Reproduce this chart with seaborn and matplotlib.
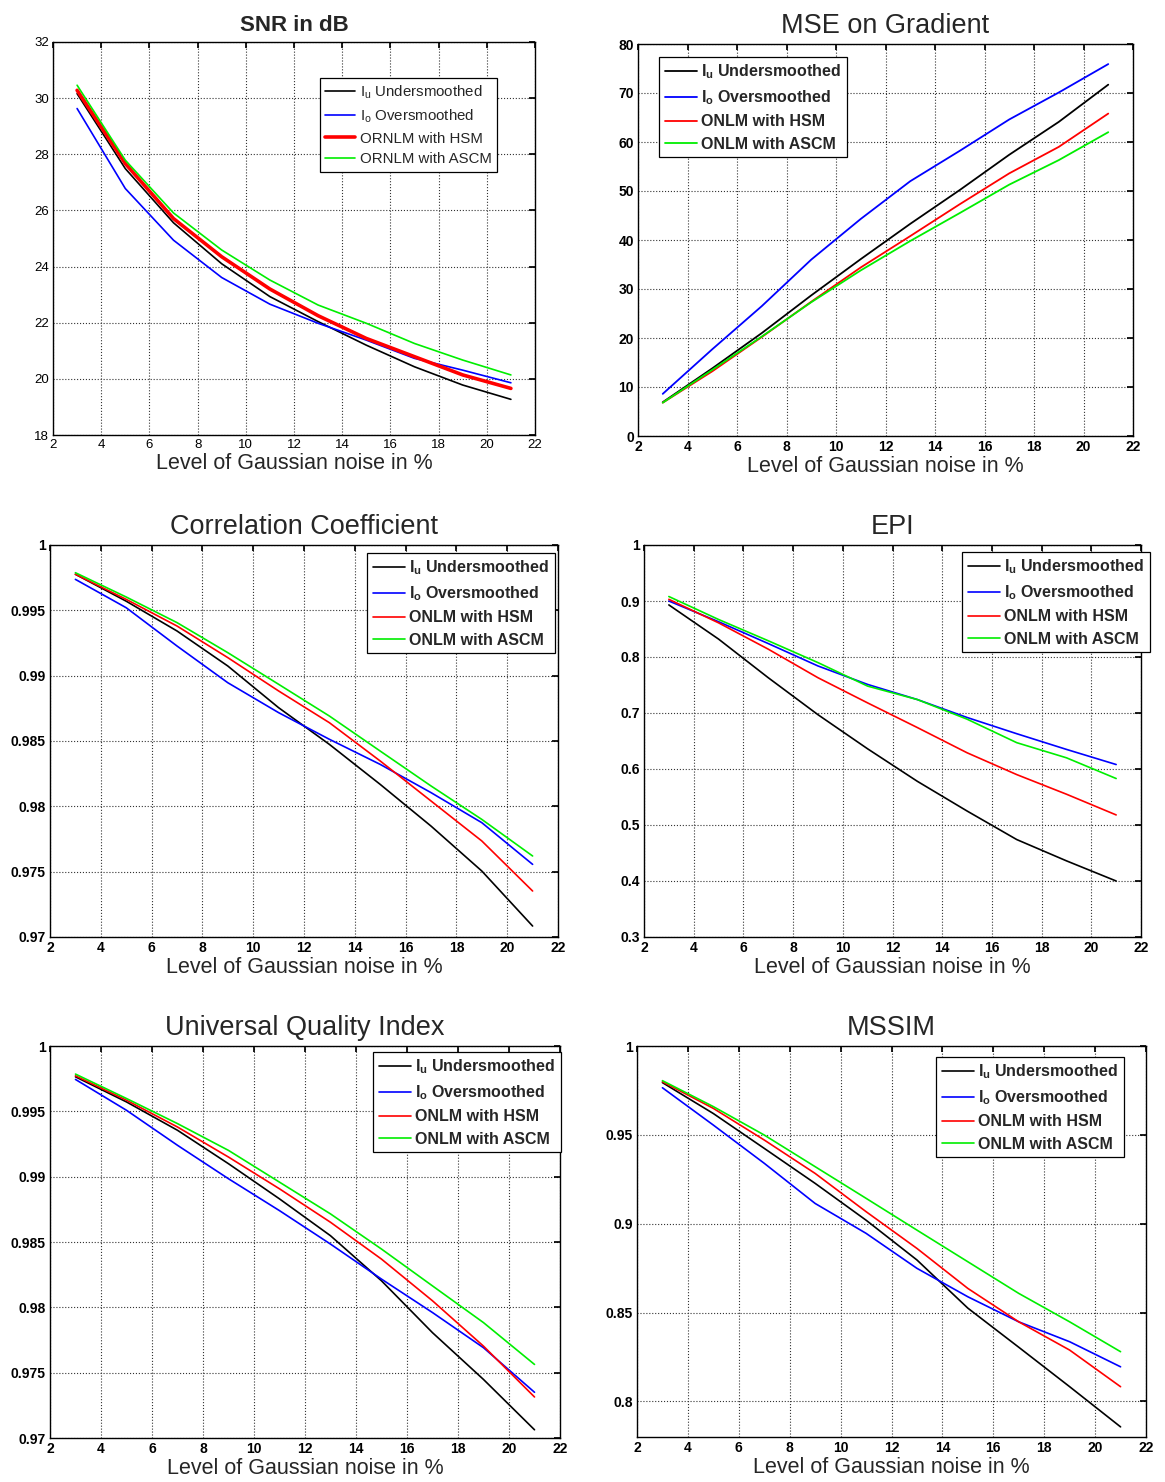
import numpy as np
import pandas as pd
import seaborn as sns
from matplotlib import pyplot as plt
from matplotlib.ticker import FuncFormatter

sns.set_theme(style="white")
plt.rcParams['font.family'] = ['Liberation Sans', 'DejaVu Sans']
plt.rcParams['mathtext.default'] = 'regular'

# noise levels (%)
noise = [3, 5, 7, 9, 11, 13, 15, 17, 19, 21]

# SNR in dB
snr_u = [30.16, 27.49, 25.56, 24.10, 22.93, 22.04, 21.20, 20.43, 19.78, 19.27]
snr_o = [29.63, 26.78, 24.94, 23.61, 22.66, 21.98, 21.38, 20.73, 20.31, 19.86]
snr_hsm = [30.28, 27.67, 25.71, 24.35, 23.20, 22.25, 21.44, 20.79, 20.14, 19.66]
snr_ascm = [30.46, 27.79, 25.91, 24.59, 23.52, 22.63, 21.98, 21.26, 20.67, 20.14]

# MSE on gradient
mse_u = [6.9, 13.8, 21.0, 28.7, 36.1, 43.3, 50.2, 57.4, 64.1, 71.7]
mse_o = [8.6, 17.7, 26.5, 36.0, 44.3, 52.0, 58.2, 64.6, 70.1, 75.9]
mse_hsm = [6.8, 13.2, 20.2, 27.4, 34.4, 40.8, 47.3, 53.6, 59.0, 65.8]
mse_ascm = [6.8, 13.5, 20.3, 27.3, 33.8, 39.8, 45.5, 51.3, 56.3, 62.0]

# Correlation coefficient
cc_u = [0.99776, 0.99570, 0.99342, 0.99074, 0.98755, 0.98474, 0.98168, 0.97849, 0.97505, 0.97084]
cc_o = [0.99737, 0.99520, 0.99227, 0.98946, 0.98717, 0.98513, 0.98321, 0.98105, 0.97875, 0.97556]
cc_hsm = [0.99776, 0.99584, 0.99380, 0.99138, 0.98883, 0.98640, 0.98347, 0.98041, 0.97735, 0.97352]
cc_ascm = [0.99788, 0.99602, 0.99406, 0.99176, 0.98934, 0.98691, 0.98423, 0.98156, 0.97900, 0.97620]

# EPI
epi_u = [0.893, 0.832, 0.763, 0.697, 0.636, 0.578, 0.525, 0.474, 0.436, 0.400]
epi_o = [0.900, 0.863, 0.824, 0.784, 0.751, 0.724, 0.692, 0.663, 0.635, 0.608]
epi_hsm = [0.903, 0.861, 0.814, 0.763, 0.718, 0.674, 0.629, 0.590, 0.555, 0.518]
epi_ascm = [0.908, 0.867, 0.829, 0.790, 0.748, 0.724, 0.689, 0.647, 0.620, 0.583]

# Universal quality index
uqi_u = [0.99764, 0.99572, 0.99355, 0.99099, 0.98830, 0.98548, 0.98203, 0.97806, 0.97448, 0.97063]
uqi_o = [0.99744, 0.99508, 0.99240, 0.98984, 0.98740, 0.98484, 0.98216, 0.97960, 0.97691, 0.97350]
uqi_hsm = [0.99772, 0.99585, 0.99380, 0.99150, 0.98907, 0.98651, 0.98369, 0.98050, 0.97703, 0.97314]
uqi_ascm = [0.99785, 0.99598, 0.99406, 0.99201, 0.98958, 0.98715, 0.98446, 0.98164, 0.97883, 0.97563]

# MSSIM
ms_u = [0.9794, 0.9620, 0.9424, 0.9227, 0.9020, 0.8796, 0.8525, 0.8305, 0.8083, 0.7857]
ms_o = [0.9765, 0.9555, 0.9340, 0.9114, 0.8946, 0.8749, 0.8589, 0.8448, 0.8336, 0.8195]
ms_hsm = [0.9799, 0.9649, 0.9471, 0.9283, 0.9068, 0.8861, 0.8636, 0.8448, 0.8289, 0.8083]
ms_ascm = [0.9805, 0.9659, 0.9499, 0.9321, 0.9143, 0.8964, 0.8786, 0.8608, 0.8448, 0.8280]

colors = ['black', 'blue', 'red', '#00ee00']
labels = ['I$_{u}$ Undersmoothed', 'I$_{o}$ Oversmoothed', 'ONLM with HSM', 'ONLM with ASCM']
labels_snr = ['I$_{u}$ Undersmoothed', 'I$_{o}$ Oversmoothed', 'ORNLM with HSM', 'ORNLM with ASCM']

W, H = 1165, 1482
fig = plt.figure(figsize=(W / 100, H / 100), dpi=100)

def box(l, r, t, b):
    return [l / W, 1 - b / H, (r - l) / W, (b - t) / H]

panels = [
    dict(title="SNR in dB", data=[snr_u, snr_o, snr_hsm, snr_ascm], labels=labels_snr,
         pos=box(53, 535, 42, 435), ylim=(18, 32), yticks=np.arange(18, 33, 2),
         leg=(320, 78), bold=False, tbold=True, lw=[1.2, 1.2, 2.6, 1.2]),
    dict(title="MSE on Gradient", data=[mse_u, mse_o, mse_hsm, mse_ascm], labels=labels,
         pos=box(638, 1133, 44, 436), ylim=(0, 80), yticks=np.arange(0, 81, 10),
         leg=(659, 57), bold=True, tbold=False, lw=[1.3] * 4),
    dict(title="Correlation Coefficient", data=[cc_u, cc_o, cc_hsm, cc_ascm], labels=labels,
         pos=box(50, 558, 545, 937), ylim=(0.97, 1), yticks=np.linspace(0.97, 1, 7),
         leg=(367, 553), bold=True, tbold=False, lw=[1.2] * 4),
    dict(title="EPI", data=[epi_u, epi_o, epi_hsm, epi_ascm], labels=labels,
         pos=box(644, 1141, 545, 937), ylim=(0.3, 1), yticks=np.linspace(0.3, 1, 8),
         leg=(962, 552), bold=True, tbold=False, lw=[1.2] * 4),
    dict(title="Universal Quality Index", data=[uqi_u, uqi_o, uqi_hsm, uqi_ascm], labels=labels,
         pos=box(50, 560, 1046, 1438), ylim=(0.97, 1), yticks=np.linspace(0.97, 1, 7),
         leg=(373, 1052), bold=True, tbold=False, lw=[1.2] * 4),
    dict(title="MSSIM", data=[ms_u, ms_o, ms_hsm, ms_ascm], labels=labels,
         pos=box(637, 1146, 1046, 1437), ylim=(0.78, 1), yticks=[0.8, 0.85, 0.9, 0.95, 1.0],
         leg=(936, 1057), bold=True, tbold=False, lw=[1.2] * 4),
]

for p in panels:
    ax = fig.add_axes(p['pos'])
    for vals, c, lab, lw in zip(p['data'], colors, p['labels'], p['lw']):
        sns.lineplot(x=noise, y=vals, color=c, linewidth=lw, label=lab, ax=ax)
    ax.set_xlim(2, 22)
    ax.set_ylim(*p['ylim'])
    ax.set_xticks(np.arange(2, 23, 2))
    ax.set_yticks(p['yticks'])
    ax.yaxis.set_major_formatter(FuncFormatter(lambda v, _: f"{v:.4g}"))
    ax.grid(True, linestyle=':', color='#333333', linewidth=0.8)
    for s in ax.spines.values():
        s.set_color('black')
        s.set_linewidth(1.0)
    wt = 'bold' if p['bold'] else 'normal'
    ax.tick_params(direction='in', length=4, colors='black', labelsize=10 if p['bold'] else 9.5,
                   top=True, right=True, pad=3)
    for t in ax.get_xticklabels() + ax.get_yticklabels():
        t.set_fontweight(wt)
    ax.set_title(p['title'], fontsize=16 if p['tbold'] else 19.5,
                 fontweight='bold' if p['tbold'] else 'medium', pad=8)
    ax.set_xlabel("Level of Gaussian noise in %", fontsize=15.5, labelpad=1)
    ax.set_ylabel("")
    lx, ly = p['leg']
    leg = ax.legend(loc='upper left', bbox_to_anchor=(lx / W, 1 - ly / H),
                    bbox_transform=fig.transFigure, borderaxespad=0,
                    fancybox=False, frameon=True, framealpha=1, edgecolor='black',
                    handlelength=2.0, handletextpad=0.3, borderpad=0.35, labelspacing=0.45,
                    prop={'size': 11.5 if p['bold'] else 10.8, 'weight': wt})
    leg.get_frame().set_linewidth(0.9)

plt.savefig("out.png", dpi=100)
